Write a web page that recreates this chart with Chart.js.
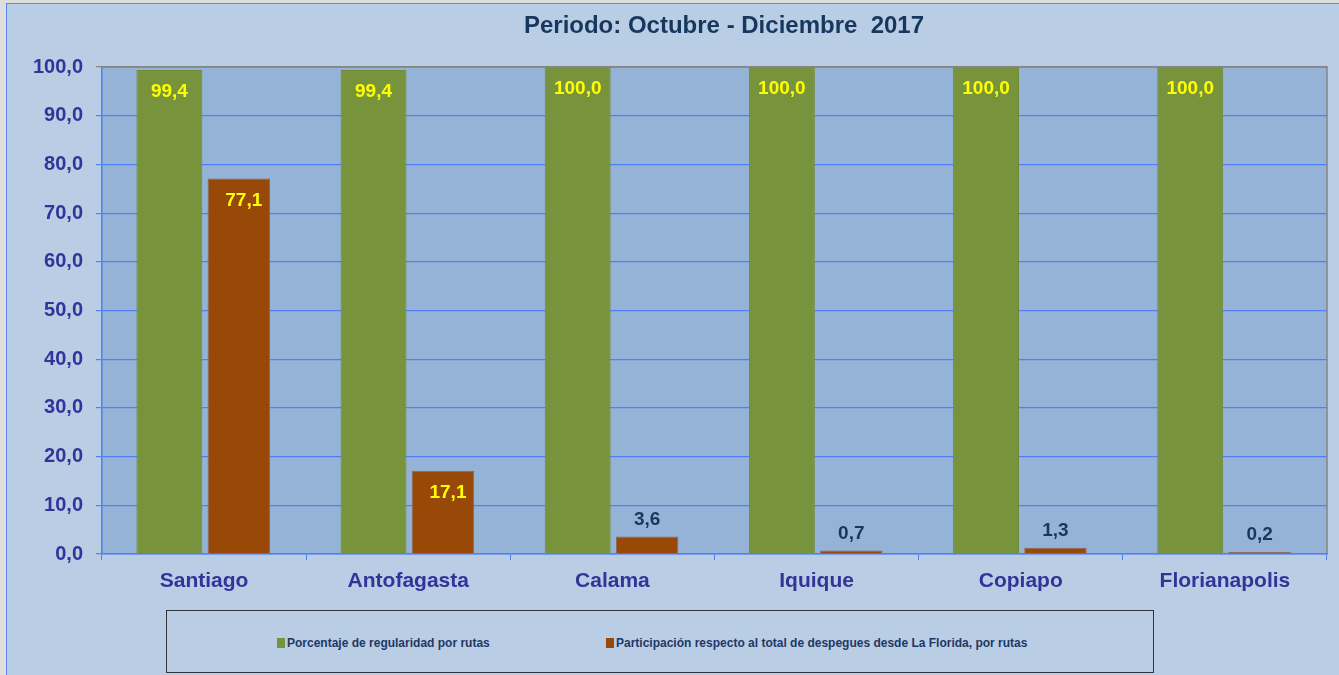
<!DOCTYPE html>
<html>
<head>
<meta charset="utf-8">
<script src="https://cdn.jsdelivr.net/npm/chart.js@4.4.1/dist/chart.umd.min.js"></script>
<style>
  body { margin:0; background:#dedede; width:1339px; height:675px; overflow:hidden; position:relative; font-family:"Liberation Sans", Arial, sans-serif; }
  #frame { position:absolute; left:6px; top:3px; width:1333px; height:672px; background:#B9CDE5; border-left:1px solid #5B87F5; border-top:1px solid #5B87F5; box-sizing:border-box; }
  #wrap { position:absolute; left:0; top:0; width:1332px; height:600px; }
  #legend { position:absolute; left:159px; top:606px; width:988px; height:63px; border:1px solid #333; box-sizing:border-box; }
  .item { position:absolute; top:25px; font-family:"Liberation Sans Narrow","Arial Narrow","Liberation Sans",sans-serif; font-weight:bold; font-size:12px; color:#1F3864; white-space:nowrap; }
  .sw { display:inline-block; width:8px; height:10px; margin-right:2px; vertical-align:-1px; }
</style>
</head>
<body>
<div id="frame">
  <div id="wrap"><canvas id="chart"></canvas></div>
  <div id="legend">
    <div class="item" style="left:110px"><span class="sw" style="background:#77933C"></span>Porcentaje de regularidad por rutas</div>
    <div class="item" style="left:439px"><span class="sw" style="background:#984807"></span>Participación respecto al total de despegues desde La Florida, por rutas</div>
  </div>
</div>
<script>
// route names on the x axis
const routes = ["Santiago", "Antofagasta", "Calama", "Iquique", "Copiapo", "Florianapolis"];
// percentage of regularity per route
const regularidad = [99.4, 99.4, 100.0, 100.0, 100.0, 100.0];
// share of take-offs from La Florida per route
const participacion = [77.1, 17.1, 3.6, 0.7, 1.3, 0.2];
const seriesNames = ["Porcentaje de regularidad por rutas", "Participación respecto al total de despegues desde La Florida, por rutas"];
const titleText = "Periodo: Octubre - Diciembre  2017";

// 12,3 style decimals
function fmt(v){
  return v.toFixed(1).replace('.', ',');
}

// plot area background, grey top/right border and the title
const plotBg = {
  id: 'plotBg',
  beforeDraw(chart){
    const a = chart.chartArea, ctx = chart.ctx;
    ctx.save();
    ctx.fillStyle = '#95B3D7';
    ctx.fillRect(a.left, a.top, a.right - a.left, a.bottom - a.top);
    // title sits a bit right of centre in the original
    ctx.fillStyle = '#17375E';
    ctx.font = 'bold 24px "Liberation Sans", Arial, sans-serif';
    ctx.textAlign = 'center';
    ctx.textBaseline = 'middle';
    ctx.fillText(titleText, 717, 22);
    ctx.restore();
  },
  afterDatasetsDraw(chart){
    const a = chart.chartArea, ctx = chart.ctx;
    ctx.save();
    ctx.strokeStyle = '#858585';
    ctx.lineWidth = 1.5;
    ctx.beginPath();
    ctx.moveTo(a.left, a.top);
    ctx.lineTo(a.right, a.top);
    ctx.lineTo(a.right, a.bottom);
    ctx.stroke();
    ctx.restore();
  }
};

// value labels on the bars
const valueLabels = {
  id: 'valueLabels',
  afterDatasetsDraw(chart){
    const ctx = chart.ctx;
    ctx.save();
    ctx.font = 'bold 19px "Liberation Sans", Arial, sans-serif';
    ctx.textAlign = 'center';
    ctx.textBaseline = 'middle';
    chart.data.datasets.forEach((ds, i) => {
      chart.getDatasetMeta(i).data.forEach((bar, j) => {
        const v = ds.data[j];
        let x = bar.x, y, color;
        if (v >= 10) { y = bar.y + 22; color = '#FFFF00'; if (i === 1) x += 5; }
        else { y = bar.y - 17; color = '#17375E'; }
        ctx.fillStyle = color;
        ctx.fillText(fmt(v), x, y);
      });
    });
    ctx.restore();
  }
};

new Chart(document.getElementById('chart'), {
  type: 'bar',
  data: {
    labels: routes,
    datasets: [
      { label: seriesNames[0], data: regularidad, backgroundColor: '#77933C', borderColor: '#6F8A3A', borderWidth: 1,
        barPercentage: 0.95, categoryPercentage: 0.68 },
      { label: seriesNames[1], data: participacion, backgroundColor: '#984807', borderColor: '#8A6A5A', borderWidth: 1,
        barPercentage: 0.9, categoryPercentage: 0.68, minBarLength: 2 }
    ]
  },
  options: {
    responsive: true,
    maintainAspectRatio: false,
    animation: false,
    layout: { padding: { left: 0, right: 12, top: 63, bottom: 0 } },
    plugins: {
      legend: { display: false },
      tooltip: { enabled: false },
      title: { display: false }
    },
    scales: {
      y: {
        min: 0, max: 100,
        ticks: {
          stepSize: 10,
          color: '#333399',
          padding: 13,
          font: { family: '"Liberation Sans", Arial, sans-serif', size: 20, weight: 'bold' },
          callback: v => fmt(v)
        },
        grid: {
          color: ctx => ctx.tick && ctx.tick.value === 100 ? '#858585' : '#4F7FF7',
          lineWidth: 1.2,
          tickLength: 6
        },
        border: { color: '#4F7FF7', width: 1.5 },
        afterFit(scale){ scale.width = 95; }
      },
      x: {
        ticks: {
          color: '#333399',
          padding: 9,
          font: { family: '"Liberation Sans", Arial, sans-serif', size: 21, weight: 'bold' }
        },
        grid: { drawOnChartArea: false, color: '#4F7FF7', tickLength: 6, offset: true },
        border: { color: '#4F7FF7', width: 1.5 },
        afterFit(scale){ scale.height = 50; }
      }
    }
  },
  plugins: [plotBg, valueLabels]
});
</script>
</body>
</html>
